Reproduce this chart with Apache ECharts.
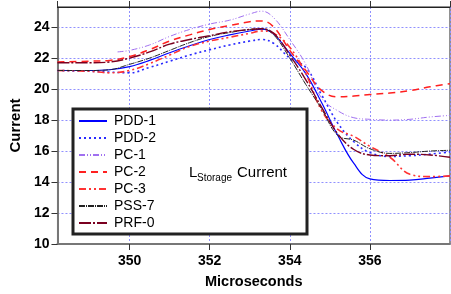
<!DOCTYPE html>
<html>
<head>
<meta charset="utf-8">
<script src="https://cdn.jsdelivr.net/npm/echarts@6/dist/echarts.min.js"></script>
<style>
  html, body { margin: 0; padding: 0; background: #fff; }
</style>
</head>
<body>
<div id="main" style="width: 451px;height:294px;"></div>
<script>
// x positions (microseconds) shared by most traces
var xs = [348.2, 349, 349.5, 350, 350.5, 351, 351.5, 352, 352.5, 353, 353.3, 353.6, 354, 354.4, 354.8, 355.2, 355.6, 356, 356.5, 357, 357.5, 358];
var pdd1 = [21.2, 21.2, 21.25, 21.45, 21.85, 22.35, 22.8, 23.2, 23.5, 23.75, 23.87, 23.55, 22.3, 21.0, 19.1, 17.0, 15.2, 14.2, 14.1, 14.12, 14.25, 14.4];
var pdd2 = [21.2, 21.15, 21.1, 21.05, 21.4, 21.8, 22.2, 22.54, 22.85, 23.1, 23.2, 22.95, 22.0, 21.4, 19.6, 17.8, 16.6, 15.9, 15.65, 15.7, 15.8, 15.95];
var pc2 = [21.75, 21.8, 21.85, 22.1, 22.55, 23.1, 23.5, 23.85, 24.1, 24.35, 24.4, 24.0, 22.5, 21.2, 19.9, 19.5, 19.55, 19.65, 19.75, 19.9, 20.15, 20.35];
var pc3 = [21.2, 21.15, 21.05, 21.2, 21.65, 22.2, 22.75, 23.1, 23.35, 23.6, 23.75, 23.6, 22.7, 21.0, 18.6, 17.4, 16.95, 16.3, 15.6, 14.5, 14.35, 14.4];
var pss7 = [21.2, 21.2, 21.25, 21.6, 22.0, 22.5, 23.0, 23.4, 23.65, 23.85, 23.9, 23.5, 22.0, 20.3, 18.7, 17.0, 16.7, 16.15, 15.85, 15.9, 16.0, 16.05];
var prf0 = [21.7, 21.7, 21.75, 22.0, 22.4, 22.9, 23.2, 23.45, 23.7, 23.85, 23.9, 23.6, 22.2, 20.6, 18.8, 17.1, 16.1, 15.75, 15.7, 15.8, 15.75, 15.6];
// PC-1 starts later
var pc1X = [349.7, 350, 350.5, 351, 351.5, 352, 352.5, 353, 353.3, 353.6, 354, 354.4, 354.8, 355.2, 355.6, 356, 356.5, 357, 357.5, 358];
var pc1 = [22.4, 22.5, 22.85, 23.4, 23.85, 24.2, 24.45, 24.85, 25.03, 24.6, 23.2, 21.6, 19.4, 18.6, 18.15, 18.05, 18.0, 18.05, 18.2, 18.3];

var names = ["PDD-1", "PDD-2", "PC-1", "PC-2", "PC-3", "PSS-7", "PRF-0"];
var xTicks = [350, 352, 354, 356];

function pairs(x, y) {
  return x.map(function (v, i) { return [v, y[i]]; });
}

var font = "Liberation Sans, Arial, sans-serif";
var myChart = echarts.init(document.getElementById("main"));

function line(name, x, y, color, width, type) {
  return {
    name: name,
    type: "line",
    smooth: 0.4,
    symbol: "none",
    data: pairs(x, y),
    lineStyle: { color: color, width: width, type: type },
    itemStyle: { color: color },
    z: 2
  };
}

var option = {
  animation: false,
  grid: {
    left: 56, right: 1, top: 7, bottom: 46,
    show: true, borderColor: "#222", borderWidth: 1
  },
  legend: {
    orient: "vertical",
    left: 78, top: 114,
    padding: 0,
    itemWidth: 28, itemHeight: 14, itemGap: 3,
    data: names,
    itemStyle: { opacity: 0 },
    textStyle: { fontFamily: font, fontSize: 14, color: "#000", lineHeight: 14, padding: [0, 0, 0, 2] },
    z: 10
  },
  xAxis: [{
    type: "value",
    min: 348.2, max: 358,
    splitNumber: 5,
    name: "Microseconds",
    nameLocation: "middle",
    nameGap: 30,
    nameTextStyle: { fontFamily: font, fontSize: 14.5, fontWeight: "bold", color: "#000" },
    axisLine: { lineStyle: { color: "#777", width: 2 } },
    axisTick: { length: 6, lineStyle: { color: "#333" } },
    axisLabel: {
      margin: 10, fontFamily: font, fontSize: 14, fontWeight: "bold", color: "#000",
      showMinLabel: false, showMaxLabel: false,
      formatter: function (v) { return xTicks.indexOf(v) >= 0 ? String(v) : ""; }
    },
    splitLine: { show: true, lineStyle: { color: "#9090ff", type: [2, 2], width: 1 } }
  }, {
    type: "value",
    position: "top",
    min: 348.2, max: 358,
    splitNumber: 5,
    axisLine: { lineStyle: { color: "#222", width: 1 } },
    axisTick: { length: 6, lineStyle: { color: "#333" } },
    axisLabel: { show: false },
    splitLine: { show: false }
  }],
  yAxis: {
    type: "value",
    min: 10, max: 25.3, interval: 2,
    name: "Current",
    nameLocation: "middle",
    nameGap: 33,
    nameTextStyle: { fontFamily: font, fontSize: 15, fontWeight: "bold", color: "#000" },
    axisLine: { show: true, lineStyle: { color: "#777", width: 2 } },
    axisTick: { show: true, length: 6, lineStyle: { color: "#333" } },
    axisLabel: { margin: 8, fontFamily: font, fontSize: 14, fontWeight: "bold", color: "#000", showMaxLabel: false },
    splitLine: { show: true, lineStyle: { color: "#9090ff", type: [2, 2], width: 1 } }
  },
  graphic: [
    { type: "rect", z: 5, shape: { x: 73, y: 109, width: 234, height: 125 },
      style: { fill: "#fff", stroke: "#222", lineWidth: 3 } },
    { type: "text", z: 6, x: 189, y: 173,
      style: { text: "L", fontFamily: font, fontSize: 15, fill: "#000", verticalAlign: "middle" } },
    { type: "text", z: 6, x: 197, y: 178,
      style: { text: "Storage", fontFamily: font, fontSize: 10, fill: "#000", verticalAlign: "middle" } },
    { type: "text", z: 6, x: 237, y: 173,
      style: { text: "Current", fontFamily: font, fontSize: 15, fill: "#000", verticalAlign: "middle" } }
  ],
  series: [
    line("PDD-1", xs, pdd1, "#0000ff", 1.2, "solid"),
    line("PDD-2", xs, pdd2, "#2a2aff", 1.6, [2, 3]),
    line("PC-1", pc1X, pc1, "#a070f0", 1, [6, 2, 1, 2, 1, 2]),
    line("PC-2", xs, pc2, "#ff2020", 1.5, [7, 5]),
    line("PC-3", xs, pc3, "#ff3333", 1.6, [7, 3, 2, 3, 2, 3]),
    line("PSS-7", xs, pss7, "#222222", 1, [6, 1, 1, 1]),
    line("PRF-0", xs, prf0, "#7a0020", 1.4, [12, 2, 2, 2])
  ]
};

myChart.setOption(option);
</script>
</body>
</html>
